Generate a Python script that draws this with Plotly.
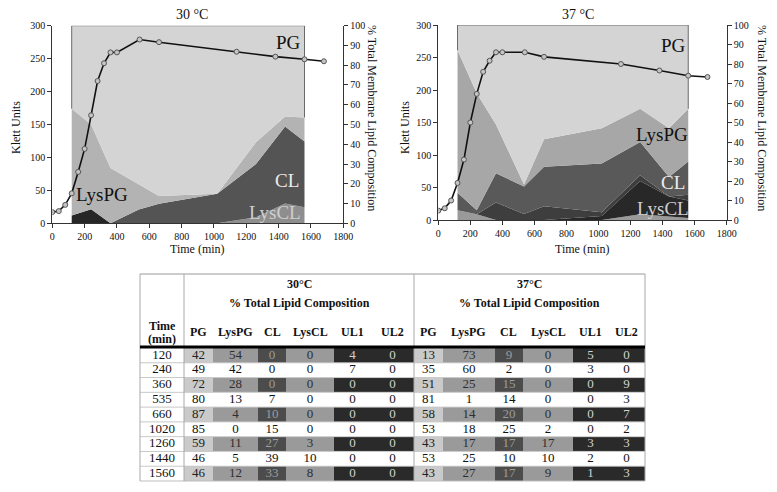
import plotly.graph_objects as go
import numpy as np

# ---------------- data ----------------
growth_times = [0, 40, 80, 120, 160, 200, 240, 280, 320, 360, 400, 540, 660, 1140, 1380, 1560, 1680]
klett_30 = [17, 18.5, 28, 45.5, 78, 113, 164, 216, 243, 259.5, 259.5, 279, 275, 260.5, 253, 249, 246]
klett_37 = [14.5, 18, 30, 57, 93, 150, 194, 228, 245, 258, 258, 258, 251, 240, 230, 222, 220]

lipid_times = [120, 240, 360, 535, 660, 1020, 1260, 1440, 1560]
pg_30 = [42, 49, 72, 80, 87, 85, 59, 46, 46]
lyspg_30 = [54, 42, 28, 13, 4, 0, 11, 5, 12]
cl_30 = [0, 0, 0, 7, 10, 15, 27, 39, 33]
lyscl_30 = [0, 0, 0, 0, 0, 0, 3, 10, 8]
ul1_30 = [4, 7, 0, 0, 0, 0, 0, 0, 0]
ul2_30 = [0, 0, 0, 0, 0, 0, 0, 0, 0]

pg_37 = [13, 35, 51, 81, 58, 53, 43, 53, 43]
lyspg_37 = [73, 60, 25, 1, 14, 18, 17, 25, 27]
cl_37 = [9, 2, 15, 14, 20, 25, 17, 10, 17]
lyscl_37 = [0, 0, 0, 0, 0, 2, 17, 10, 9]
ul1_37 = [5, 3, 0, 0, 0, 0, 3, 2, 1]
ul2_37 = [0, 0, 9, 3, 7, 2, 3, 0, 3]

lipid_names = ["PG", "LysPG", "CL", "LysCL", "UL1", "UL2"]

# ---------------- helpers ----------------
# The page has an 8px body margin, so the figure is drawn offset by 8px.
OFF = 8
W, H = 761, 476
def px(x):
    return (x - OFF) / W
def py(y):
    return 1 - (y - OFF) / H

SERIF = "Liberation Serif"
fig = go.Figure()

# stacked areas (100% stacked)
def add_stack(layers, group, xa, ya):
    for vals, color, is_top in layers:
        fig.add_trace(go.Scatter(
            x=lipid_times, y=vals, stackgroup=group, groupnorm="percent",
            mode="lines", fillcolor=color,
            line=dict(width=1 if is_top else 0, color="#6a6a6a" if is_top else color),
            xaxis=xa, yaxis=ya, hoverinfo="skip", showlegend=False))
    # side outline of PG region
    tot = np.zeros(len(lipid_times))
    for vals, _, _ in layers:
        tot = tot + np.array(vals, dtype=float)
    below = (tot - np.array(layers[-1][0], dtype=float)) / tot * 100
    fig.add_trace(go.Scatter(
        x=[lipid_times[0], lipid_times[0], None, lipid_times[-1], lipid_times[-1]],
        y=[below[0], 100, None, below[-1], 100],
        mode="lines", line=dict(color="#6a6a6a", width=1),
        xaxis=xa, yaxis=ya, hoverinfo="skip", showlegend=False))

add_stack([
    (ul1_30, "#262626", False),
    (ul2_30, "#3a3a3a", False),
    (lyscl_30, "#8e8e8e", False),
    (cl_30, "#545454", False),
    (lyspg_30, "#b3b3b3", False),
    (pg_30, "#d4d4d4", True),
], "s30", "x", "y")

add_stack([
    (ul1_37, "#9a9a9a", False),
    (lyscl_37, "#282828", False),
    (ul2_37, "#3e3e3e", False),
    (cl_37, "#595959", False),
    (lyspg_37, "#a7a7a7", False),
    (pg_37, "#d4d4d4", True),
], "s37", "x2", "y3")

# growth curves
for ks, xa, ya in [(klett_30, "x", "y2"), (klett_37, "x2", "y4")]:
    fig.add_trace(go.Scatter(
        x=growth_times, y=ks, mode="lines+markers",
        line=dict(color="#111111", width=1.6),
        marker=dict(symbol="circle", size=5, color="#c4c4c4",
                    line=dict(color="#555555", width=1)),
        xaxis=xa, yaxis=ya, hoverinfo="skip", showlegend=False))

# ---------------- table ----------------
col_widths = [44, 29, 45, 28, 48, 37, 43, 29, 52, 28, 50, 35, 37]
x_edges = list(np.concatenate([[0], np.cumsum(col_widths)]))
y_edges = [i - 0.5 for i in range(len(lipid_times) + 1)]

type_code = {"PG": 1, "LysPG": 2, "CL": 3, "LysCL": 2, "UL1": 4, "UL2": 4}
text_col_shaded = {1: "#222222", 2: "#2e2e2e", 3: "#9c9c9c", 4: "#d2d2d2"}
cols_30 = [pg_30, lyspg_30, cl_30, lyscl_30, ul1_30, ul2_30]
cols_37 = [pg_37, lyspg_37, cl_37, lyscl_37, ul1_37, ul2_37]

z = []
tx, ty, tt, tc = [], [], [], []
centers = [(x_edges[i] + x_edges[i + 1]) / 2 for i in range(len(col_widths))]
for r, t in enumerate(lipid_times):
    shaded = (r % 2 == 0)
    row = [0]
    tx.append(centers[0]); ty.append(r); tt.append(str(t)); tc.append("#111111")
    ci = 1
    for block in (cols_30, cols_37):
        for name, vals in zip(lipid_names, block):
            code = type_code[name] if shaded else 0
            row.append(code)
            tx.append(centers[ci]); ty.append(r); tt.append(str(vals[r]))
            tc.append(text_col_shaded[code] if shaded else "#111111")
            ci += 1
    z.append(row)

cell_colors = ["#ffffff", "#cacaca", "#9a9a9a", "#4c4c4c", "#2a2a2a"]
fig.add_trace(go.Heatmap(
    x=x_edges, y=y_edges, z=z, zmin=0, zmax=4,
    colorscale=[[i / 4, c] for i, c in enumerate(cell_colors)],
    showscale=False, hoverinfo="skip", xaxis="x3", yaxis="y5"))
fig.add_trace(go.Scatter(
    x=tx, y=ty, text=tt, mode="text",
    textfont=dict(family=SERIF, size=13, color=tc),
    xaxis="x3", yaxis="y5", hoverinfo="skip", showlegend=False))

# ---------------- layout ----------------
tickfont = dict(family=SERIF, size=10, color="#111")
common = dict(ticks="outside", ticklen=4, tickcolor="#333", showline=True,
              linecolor="#333", linewidth=1, showgrid=False, zeroline=False,
              tickfont=tickfont, automargin=False, fixedrange=True)
def xax(domain, anchor):
    return dict(domain=domain, anchor=anchor, range=[0, 1800], dtick=200, **common)
def pct_ax(domain, anchor):
    return dict(domain=domain, anchor=anchor, side="right", range=[0, 100], dtick=10, **common)
def klett_ax(over, anchor):
    return dict(overlaying=over, anchor=anchor, side="left", range=[0, 300], dtick=50, **common)

d1x = [px(52.3), px(343.3)]
d1y = [py(223.3), py(25.7)]
d2x = [px(438.3), px(726.7)]
d2y = [py(220), py(25)]

fig.update_layout(
    width=W, height=H, margin=dict(l=0, r=0, t=0, b=0, pad=0),
    paper_bgcolor="white", plot_bgcolor="white", showlegend=False,
    font=dict(family=SERIF, color="#111"),
    xaxis=xax(d1x, "y"), yaxis=pct_ax(d1y, "x"), yaxis2=klett_ax("y", "x"),
    xaxis2=xax(d2x, "y3"), yaxis3=pct_ax(d2y, "x2"), yaxis4=klett_ax("y3", "x2"),
    xaxis3=dict(domain=[px(140), px(645)], anchor="y5", range=[0, x_edges[-1]],
                visible=False, fixedrange=True, automargin=False),
    yaxis5=dict(domain=[py(481), py(348)], anchor="x3", range=[8.5, -0.5],
                visible=False, fixedrange=True, automargin=False),
)

ann = []
def A(x, y, text, size=12, color="#111", angle=0, bold=False):
    ann.append(dict(x=px(x), y=py(y), xref="paper", yref="paper", text=("<b>%s</b>" % text) if bold else text,
                    showarrow=False, textangle=angle, xanchor="center", yanchor="middle",
                    font=dict(family=SERIF, size=size, color=color)))

# chart titles & axis titles
A(192, 15, "30 °C", 14)
A(578, 15, "37 °C", 14)
for (xl, xr, xc) in [(16, 372, 197), (405, 762, 582)]:
    A(xl, 128, "Klett Units", 12, angle=-90)
    A(xr, 118, "% Total Membrane Lipid Composition", 12, angle=90)
    A(xc, 249, "Time (min)", 12)

# area labels
A(288, 43, "PG", 19)
A(102, 195, "LysPG", 19)
A(287, 180, "CL", 19, "#ececec")
A(275, 212, "LysCL", 19, "#cfcfcf")
A(673, 46, "PG", 19)
A(662, 135, "LysPG", 19)
A(673, 182, "CL", 19, "#ececec")
A(663, 208, "LysCL", 19, "#cfcfcf")

# table header
A(299, 284, "30°C", 12, bold=True)
A(299, 303, "% Total Lipid Composition", 12, bold=True)
A(529, 284, "37°C", 12, bold=True)
A(529, 303, "% Total Lipid Composition", 12, bold=True)
A(162, 326, "Time", 12, bold=True)
A(162, 339, "(min)", 12, bold=True)
for i, name in enumerate(lipid_names * 2):
    A(140 + centers[i + 1], 332, name, 12, bold=True)

shapes = []
def L(x0, y0, x1, y1, color="#9a9a9a", w=1):
    shapes.append(dict(type="line", xref="paper", yref="paper", x0=px(x0), y0=py(y0),
                       x1=px(x1), y1=py(y1), line=dict(color=color, width=w), layer="above"))
row_h = (481 - 348) / len(lipid_times)
for i in range(1, len(lipid_times)):
    L(140, 348 + i * row_h, 645, 348 + i * row_h, "#c8c8c8", 1)
L(140, 481, 645, 481, "#bdbdbd", 1)
L(140, 274, 645, 274, "#9a9a9a", 1)
for xv in (140, 184, 414, 645):
    L(xv, 274, xv, 481, "#a8a8a8", 1)
L(140, 347, 645, 347, "#000000", 3)

fig.update_layout(annotations=ann, shapes=shapes)
fig.write_html("out.html")
